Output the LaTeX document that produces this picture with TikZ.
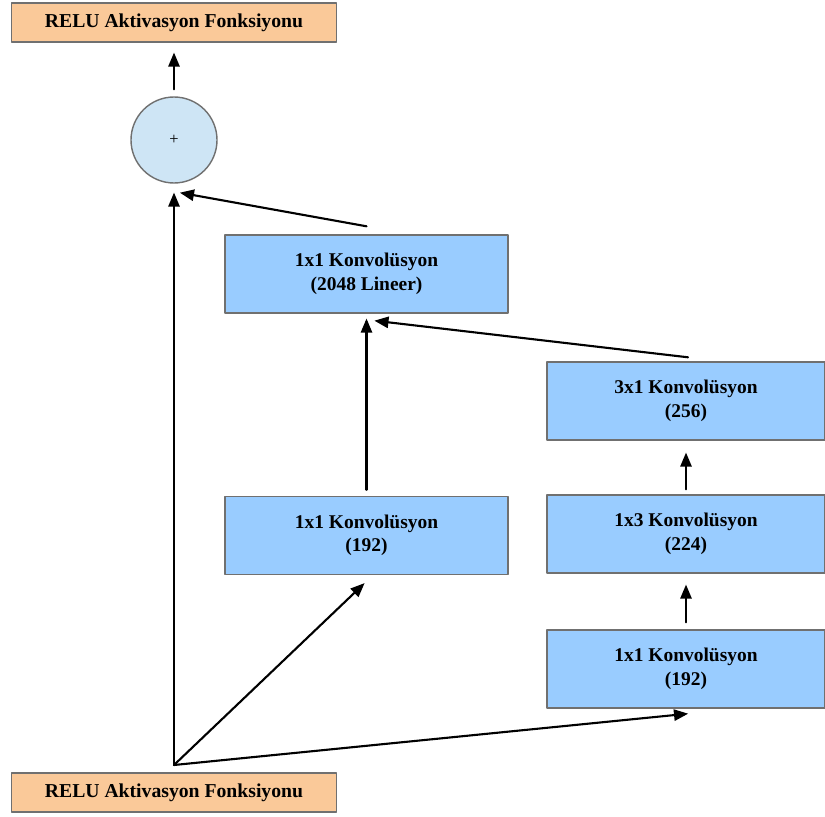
\documentclass[tikz,border=0pt]{standalone}
\usepackage{fontspec}
\setmainfont{Liberation Serif}
\usepackage{tikz}
\usetikzlibrary{arrows}
\usetikzlibrary{positioning}
\usetikzlibrary{calc}
\definecolor{convblue}{RGB}{153,204,255}
\definecolor{reluorange}{RGB}{250,201,153}
\definecolor{sumblue}{RGB}{206,229,245}
\definecolor{edgegray}{RGB}{112,112,112}

\begin{document}
\begin{tikzpicture}[line cap=round,line join=round,>=triangle 45,x=0.03cm,y=-0.03cm,
  convbox/.style={draw=edgegray,line width=1.2pt,fill=convblue,minimum width=8.49cm,minimum height=2.34cm,inner sep=0pt,align=center,font=\fontsize{16.6}{20}\selectfont\bfseries},
  relubox/.style={draw=edgegray,line width=1.2pt,fill=reluorange,minimum width=9.75cm,minimum height=1.17cm,inner sep=0pt,font=\fontsize{16.8}{20}\selectfont\bfseries},
  sumnode/.style={circle,draw=edgegray,line width=1.2pt,fill=sumblue,minimum size=2.58cm,inner sep=0pt,font=\fontsize{14}{16}\selectfont},
  arr/.style={->,line width=1.8pt,color=black}]
%  \draw[step=25,gray,very thin] (0,0) grid (825,816);

\useasboundingbox (0,0) rectangle (825,816);

\node[relubox] (reluTop) at (174,22.5) {RELU Aktivasyon Fonksiyonu};
\node[sumnode] (sum) at (174,140) {+};

\node[convbox] (lin) at (366.5,274) {1x1 Konvolüsyon\\(2048 Lineer)};
\node[convbox,minimum width=8.34cm] (conv31) at (686,401) {3x1 Konvolüsyon\\(256)};

\node[convbox] (conv11a) at (366.5,535.5) {1x1 Konvolüsyon\\(192)};
\node[convbox,minimum width=8.34cm] (conv13) at (686,534) {1x3 Konvolüsyon\\(224)};
\node[convbox,minimum width=8.34cm] (conv11b) at (686,669) {1x1 Konvolüsyon\\(192)};

\node[relubox] (reluBot) at (174,792.5) {RELU Aktivasyon Fonksiyonu};
\coordinate (split) at (174,765);

\draw[arr] ($(sum.north)+(0,-7)$) -- ($(reluTop.south)+(0,10)$);
\draw[arr] ($(lin.north)+(0,-8)$) -- ($(sum.south)+(6,9)$);

\draw[arr] ($(conv31.north)+(2,-4)$) -- ($(lin.south)+(8,7)$);
\draw[arr] ($(conv11a.north)+(0,-6)$) -- ($(lin.south)+(0,5)$);

\draw[arr] ($(conv13.north)+(0,-5)$) -- ($(conv31.south)+(0,12)$);
\draw[arr] ($(conv11b.north)+(0,-7)$) -- ($(conv13.south)+(0,11)$);

\draw[arr] (split) -- ($(sum.south)+(0,9)$);
\draw[arr] (split) -- ($(conv11a.south)+(-2,8)$);
\draw[arr] (split) -- ($(conv11b.south)+(2,5)$);

\end{tikzpicture}
\end{document}
